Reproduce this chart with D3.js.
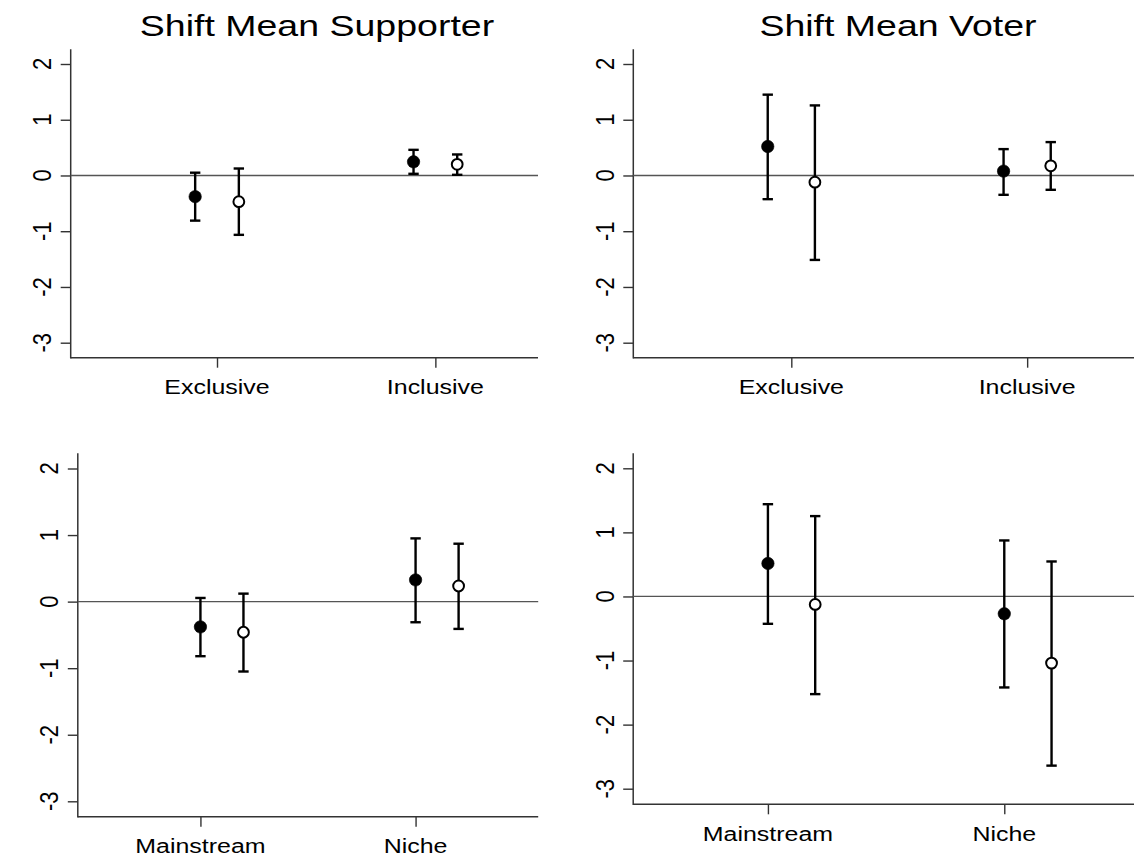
<!DOCTYPE html>
<html>
<head>
<meta charset="utf-8">
<script src="https://cdn.jsdelivr.net/npm/d3@7/dist/d3.min.js"></script>
<style>
  html, body { margin: 0; padding: 0; background: #fff; }
  svg { display: block; font-family: "Liberation Sans", Arial, sans-serif; }
</style>
</head>
<body>
<svg id="chart" width="1134" height="859"></svg>
<script>
// Kategorier och axelvärden
const catsTop = ["Exclusive", "Inclusive"];
const catsBottom = ["Mainstream", "Niche"];
const yTicks = [-3, -2, -1, 0, 1, 2];
const titles = ["Shift Mean Supporter", "Shift Mean Voter"];

// Skattningar: [punkt, nedre, övre] per kategori
const supTypeFilled = [[-0.38, -0.81, 0.05], [0.245, 0.03, 0.46]];
const supTypeOpen   = [[-0.47, -1.065, 0.125], [0.20, 0.012, 0.377]];
const votTypeFilled = [[0.52, -0.425, 1.45], [0.078, -0.347, 0.473]];
const votTypeOpen   = [[-0.12, -1.515, 1.257], [0.174, -0.257, 0.599]];
const supNicheFilled = [[-0.38, -0.82, 0.055], [0.326, -0.31, 0.95]];
const supNicheOpen   = [[-0.46, -1.05, 0.12], [0.235, -0.41, 0.87]];
const votNicheFilled = [[0.515, -0.427, 1.44], [-0.27, -1.42, 0.874]];
const votNicheOpen   = [[-0.125, -1.524, 1.254], [-1.04, -2.64, 0.546]];

// Placering av punkter och kategorimarkeringar på x-skalan
const xPos = [1, 2];
const openShift = 0.2;
const tickPosTop = [1.1, 2.1];
const tickPosBottom = [1, 2];

const svg = d3.select("#chart");
const STRETCH = 1.28;

const panels = [
  { left: 70.7, right: 538, top: 49.3, bottom: 357.7, y2: 64, y3: 342.7,
    cats: catsTop, ticks: tickPosTop, filled: supTypeFilled, open: supTypeOpen,
    title: titles[0], titleX: 317 },
  { left: 633.3, right: 1138, top: 49.3, bottom: 357.7, y2: 64, y3: 342.7,
    cats: catsTop, ticks: tickPosTop, filled: votTypeFilled, open: votTypeOpen,
    title: titles[1], titleX: 898 },
  { left: 77.8, right: 538.2, top: 453.3, bottom: 816.7, y2: 468.5, y3: 801.3,
    cats: catsBottom, ticks: tickPosBottom, filled: supNicheFilled, open: supNicheOpen },
  { left: 633.2, right: 1139, top: 453.3, bottom: 804.3, y2: 468.3, y3: 788.7,
    cats: catsBottom, ticks: tickPosBottom, filled: votNicheFilled, open: votNicheOpen }
];

function stretchedText(g, x, y, txt, size, rotate, sx) {
  g.append("text")
    .attr("transform", `translate(${x},${y}) scale(${sx || STRETCH},1)` + (rotate ? " rotate(-90)" : ""))
    .attr("text-anchor", "middle")
    .style("font-size", `${size}px`)
    .attr("fill", "#000")
    .text(txt);
}

function drawPanel(p) {
  const g = svg.append("g");
  const x = d3.scaleLinear().domain([0.43, 2.57]).range([p.left, p.right]);
  const y = d3.scaleLinear().domain([-3, 2]).range([p.y3, p.y2]);

  // Titel
  if (p.title) stretchedText(g, p.titleX, 36, p.title, 29.3, false);

  // Y-axel med markeringar
  const yAxis = g.append("g")
    .attr("transform", `translate(${p.left},0)`)
    .call(d3.axisLeft(y).tickValues(yTicks).tickSize(10).tickFormat(""));
  yAxis.select(".domain").remove();
  yAxis.selectAll(".tick line").attr("stroke", "#333").attr("stroke-width", 1.4);
  g.append("line")
    .attr("x1", p.left).attr("x2", p.left)
    .attr("y1", p.top).attr("y2", p.bottom + 0.7)
    .attr("stroke", "#333").attr("stroke-width", 1.5);
  yTicks.forEach(t => stretchedText(g, p.left - 19.7, y(t), String(t), 22, true, 1.15));

  // X-axel med kategorier
  const xAxis = g.append("g")
    .attr("transform", `translate(0,${p.bottom})`)
    .call(d3.axisBottom(x).tickValues(p.ticks).tickSize(10).tickFormat(""));
  xAxis.select(".domain").remove();
  xAxis.selectAll(".tick line").attr("stroke", "#333").attr("stroke-width", 1.4);
  g.append("line")
    .attr("x1", p.left).attr("x2", p.right)
    .attr("y1", p.bottom).attr("y2", p.bottom)
    .attr("stroke", "#333").attr("stroke-width", 1.5);
  p.ticks.forEach((t, i) => stretchedText(g, x(t), p.bottom + 36.3, p.cats[i], 19.5, false));

  // Nollinje
  g.append("line")
    .attr("x1", p.left).attr("x2", p.right)
    .attr("y1", y(0)).attr("y2", y(0))
    .attr("stroke", "#555").attr("stroke-width", 1.3);

  // Felstaplar och punkter
  const series = [
    { data: p.filled, shift: 0, fill: "#000" },
    { data: p.open, shift: openShift, fill: "#fff" }
  ];
  series.forEach(s => {
    s.data.forEach((d, i) => {
      const cx = x(xPos[i] + s.shift);
      const [est, lo, hi] = d;
      g.append("line")
        .attr("x1", cx).attr("x2", cx).attr("y1", y(lo)).attr("y2", y(hi))
        .attr("stroke", "#000").attr("stroke-width", 2.4);
      [lo, hi].forEach(v => {
        g.append("line")
          .attr("x1", cx - 5.2).attr("x2", cx + 5.2).attr("y1", y(v)).attr("y2", y(v))
          .attr("stroke", "#000").attr("stroke-width", 2.4);
      });
      g.append("circle")
        .attr("cx", cx).attr("cy", y(est)).attr("r", s.shift ? 5.4 : 6.2)
        .attr("fill", s.fill).attr("stroke", "#000").attr("stroke-width", s.shift ? 2 : 0.6);
    });
  });
}

panels.forEach(drawPanel);
</script>
</body>
</html>
